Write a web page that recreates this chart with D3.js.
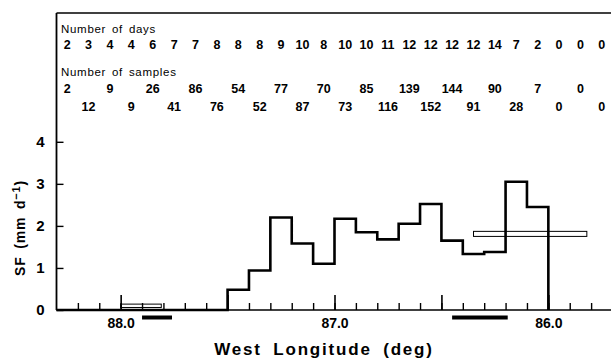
<!DOCTYPE html>
<html>
<head>
<meta charset="utf-8">
<script src="https://cdn.jsdelivr.net/npm/d3@7"></script>
<style>
  html, body { margin: 0; padding: 0; background: #fff; }
  svg { display: block; }
  text { font-family: "Liberation Sans", Arial, Helvetica, sans-serif; fill: #000; }
</style>
</head>
<body>
<svg id="chart" width="611" height="359"></svg>
<script>
// ---- Data (bins 0.1 deg wide, west longitude, from 88.3 W eastward) ----
const binWest = [88.3, 88.2, 88.1, 88.0, 87.9, 87.8, 87.7, 87.6, 87.5, 87.4, 87.3, 87.2, 87.1,
                 87.0, 86.9, 86.8, 86.7, 86.6, 86.5, 86.4, 86.3, 86.2, 86.1, 86.0, 85.9, 85.8];
const binWidth = 0.1;
const sfValues = [0, 0, 0, 0, 0, 0, 0, 0, 0.48, 0.94, 2.2, 1.58, 1.1,
                  2.17, 1.85, 1.68, 2.05, 2.52, 1.65, 1.33, 1.38, 3.05, 2.45, 0, 0, 0];
const numDays = [2, 3, 4, 4, 6, 7, 7, 8, 8, 8, 9, 10, 8, 10, 10, 11, 12, 12, 12, 12, 14, 7, 2, 0, 0, 0];
const numSamples = [2, 12, 9, 9, 26, 41, 86, 76, 54, 52, 77, 87, 70, 73, 85, 116, 139, 152, 144, 91, 90, 28, 7, 0, 0, 0];
const xTickLabels = ["88.0", "87.0", "86.0"];
const xTickValues = [88.0, 87.0, 86.0];
const yTickValues = [0, 1, 2, 3, 4];
// hollow reference boxes (lon west edge, lon east edge, low, high)
const refBoxes = [
  { lonW: 88.0, lonE: 87.81, lo: 0.06, hi: 0.14 },
  { lonW: 86.35, lonE: 85.82, lo: 1.75, hi: 1.87 }
];
// thick bars under the axis
const periodBars = [
  { lonW: 87.90, lonE: 87.76 },
  { lonW: 86.45, lonE: 86.19 }
];

// ---- Layout ----
const svg = d3.select("#chart");
const x = d3.scaleLinear().domain([88.3, 85.7]).range([56.5, 612.5]);
const y = d3.scaleLinear().domain([0, 4]).range([310, 141.8]);
const yTop = 13;

// frame: left axis + top line + baseline
svg.append("line").attr("x1", x(88.3)).attr("x2", 611).attr("y1", yTop).attr("y2", yTop)
  .attr("stroke", "#000").attr("stroke-width", 1.6);
svg.append("line").attr("x1", x(88.3)).attr("x2", x(88.3)).attr("y1", yTop).attr("y2", y(0))
  .attr("stroke", "#000").attr("stroke-width", 1.8);
svg.append("line").attr("x1", x(88.3)).attr("x2", 611).attr("y1", y(0)).attr("y2", y(0))
  .attr("stroke", "#000").attr("stroke-width", 1.6);

// x minor ticks
const minorVals = binWest.slice(1);
const xMinor = d3.axisBottom(x).tickValues(minorVals).tickSize(-7).tickFormat("");
const gMinor = svg.append("g").attr("transform", `translate(0,${y(0)})`).call(xMinor);
gMinor.select(".domain").remove();
gMinor.selectAll("line").attr("stroke-width", 1.4);

// x major ticks with labels
const xMajor = d3.axisBottom(x).tickValues([88.0, 87.5, 87.0, 86.5, 86.0]).tickSize(-15).tickPadding(8)
  .tickFormat(d => { const i = xTickValues.indexOf(d); return i >= 0 ? xTickLabels[i] : ""; });
const gMajor = svg.append("g").attr("transform", `translate(0,${y(0)})`).call(xMajor);
gMajor.select(".domain").remove();
gMajor.selectAll("line").attr("stroke-width", 1.6);
gMajor.selectAll("text").style("font-size", "14px").style("font-weight", "bold")
  .style("font-family", "'Liberation Sans', Arial, sans-serif").attr("fill", "#000");

// y axis
const yAxis = d3.axisLeft(y).tickValues(yTickValues).tickSize(-7).tickPadding(12).tickFormat(d3.format("d"));
const gY = svg.append("g").attr("transform", `translate(${x(88.3)},0)`).call(yAxis);
gY.select(".domain").remove();
gY.selectAll("line").attr("stroke-width", 1.4);
gY.selectAll("text").style("font-size", "15px").style("font-weight", "bold")
  .style("font-family", "'Liberation Sans', Arial, sans-serif").attr("fill", "#000");

// histogram step line
const pts = [];
binWest.forEach((w, i) => {
  if (w <= 86.0 + 1e-9) return;
  pts.push([x(w), y(sfValues[i])]);
  pts.push([x(w - binWidth), y(sfValues[i])]);
});
pts.push([x(86.0), y(0)]);
svg.append("path")
  .attr("d", d3.line()(pts))
  .attr("fill", "none").attr("stroke", "#000").attr("stroke-width", 2.6)
  .attr("stroke-linejoin", "miter");

// hollow reference boxes
svg.selectAll("rect.ref").data(refBoxes).enter().append("rect")
  .attr("class", "ref")
  .attr("x", d => x(d.lonW)).attr("width", d => x(d.lonE) - x(d.lonW))
  .attr("y", d => y(d.hi)).attr("height", d => y(d.lo) - y(d.hi))
  .attr("fill", "none").attr("stroke", "#000").attr("stroke-width", 1);

// period bars below axis
svg.selectAll("line.period").data(periodBars).enter().append("line")
  .attr("class", "period")
  .attr("x1", d => x(d.lonW)).attr("x2", d => x(d.lonE))
  .attr("y1", 317.5).attr("y2", 317.5)
  .attr("stroke", "#000").attr("stroke-width", 4);

// top annotation
svg.append("text").attr("x", 61).attr("y", 33).text("Number of days")
  .style("font-size", "11.5px").style("letter-spacing", "0.7px").style("word-spacing", "2px");
svg.selectAll("text.days").data(numDays).enter().append("text")
  .attr("class", "days")
  .attr("x", (d, i) => x(binWest[i] - binWidth / 2)).attr("y", 49)
  .attr("text-anchor", "middle").style("font-size", "12.5px").style("font-weight", "bold")
  .text(d => d);

svg.append("text").attr("x", 61).attr("y", 76).text("Number of samples")
  .style("font-size", "11.5px").style("letter-spacing", "0.7px").style("word-spacing", "2px");
svg.selectAll("text.samples").data(numSamples).enter().append("text")
  .attr("class", "samples")
  .attr("x", (d, i) => x(binWest[i] - binWidth / 2))
  .attr("y", (d, i) => i % 2 === 0 ? 93 : 111)
  .attr("text-anchor", "middle").style("font-size", "12.5px").style("font-weight", "bold")
  .text(d => d);

// axis titles
svg.append("text").attr("x", 324).attr("y", 355).attr("text-anchor", "middle")
  .style("font-size", "17px").style("font-weight", "bold").style("letter-spacing", "1.8px")
  .style("word-spacing", "5px")
  .text("West Longitude (deg)");

const yl = svg.append("text").attr("transform", "translate(25,228) rotate(-90)")
  .attr("text-anchor", "middle").style("font-size", "14px").style("font-weight", "bold")
  .style("letter-spacing", "0.8px").style("word-spacing", "3px");
yl.append("tspan").text("SF (mm d");
yl.append("tspan").attr("dy", -5).style("font-size", "11px").text("\u22121");
yl.append("tspan").attr("dy", 5).text(")");
</script>
</body>
</html>
